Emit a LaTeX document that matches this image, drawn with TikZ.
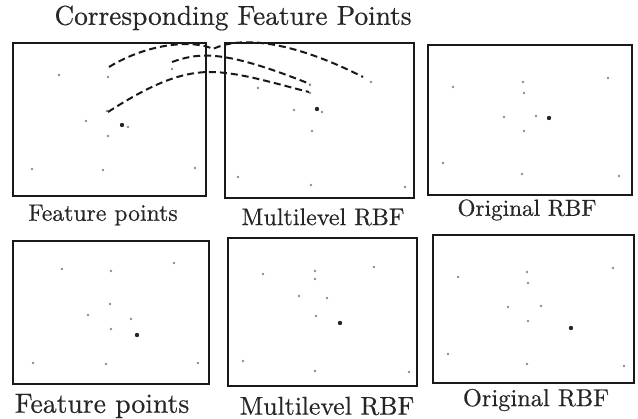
\documentclass[tikz,border=0pt]{standalone}
\usepackage{fontspec}
\setmainfont[FakeBold=0.5]{lmroman10-regular.otf}
\usetikzlibrary{calc}
\begin{document}
\begin{tikzpicture}[x=1pt,y=-1pt,
  frame/.style={draw=black!90,line width=2.6pt},
  fp/.style={circle,fill=black!45,inner sep=0pt,minimum size=2.6pt},
  fpd/.style={circle,fill=black!85,inner sep=0pt,minimum size=4.4pt},
  corr/.style={draw=black!90,line width=2pt,dash pattern=on 7pt off 4pt},
  lab/.style={inner sep=0pt,text=black!85}]
\useasboundingbox (0,0) rectangle (638,419);
% title
\node[lab,font=\fontsize{27.3}{31}\selectfont] (title) at (233,18) {Corresponding Feature Points};
% frames row 1
\draw[frame] (13,43) rectangle (206,196);
\draw[frame] (225,43) rectangle (414,198);
\draw[frame] (428,45) rectangle (632,195);
% frames row 2
\draw[frame] (13,241) rectangle (209,384);
\draw[frame] (228,238) rectangle (417,386);
\draw[frame] (433,235) rectangle (634,383);
% labels
\node[lab,font=\fontsize{23.7}{28}\selectfont] (l1) at (103,215) {Feature points};
\node[lab,font=\fontsize{24}{28}\selectfont] (l2) at (323,217) {Multilevel RBF};
\node[lab,font=\fontsize{23.2}{28}\selectfont] (l3) at (527,210) {Original RBF};
\node[lab,font=\fontsize{27.7}{31}\selectfont] (l4) at (102,406) {Feature points};
\node[lab,font=\fontsize{25.7}{29}\selectfont] (l5) at (327,406) {Multilevel RBF};
\node[lab,font=\fontsize{24.4}{28}\selectfont] (l6) at (536,400) {Original RBF};
% box 1 points
\node[fp] (a1) at (59,75) {};
\node[fp] (a2) at (108,77) {};
\node[fp] (a3) at (172,69) {};
\node[fp] (a4) at (107,111) {};
\node[fp] (a5) at (86,121) {};
\node[fpd] (a6) at (122,125) {};
\node[fp] (a7) at (128,127) {};
\node[fp] (a8) at (108,136) {};
\node[fp] (a9) at (32,169) {};
\node[fp] (a10) at (103,170) {};
\node[fp] (a11) at (195,168) {};
% box 2 points
\node[fp] (b1) at (258,88) {};
\node[fp] (b2) at (310,85) {};
\node[fp] (b3) at (310,93) {};
\node[fp] (b4) at (371,82) {};
\node[fp] (b5) at (294,110) {};
\node[fpd] (b6) at (317,109) {};
\node[fp] (b7) at (322,112) {};
\node[fp] (b8) at (312,131) {};
\node[fp] (b9) at (238,177) {};
\node[fp] (b10) at (311,185) {};
\node[fp] (b11) at (405,187) {};
% box 3 points
\node[fp] (c1) at (453,87) {};
\node[fp] (c2) at (523,82) {};
\node[fp] (c3) at (524,93) {};
\node[fp] (c4) at (608,78) {};
\node[fp] (c5) at (504,117) {};
\node[fp] (c6) at (536,116) {};
\node[fpd] (c7) at (549,118) {};
\node[fp] (c8) at (524,131) {};
\node[fp] (c9) at (443,163) {};
\node[fp] (c10) at (522,174) {};
\node[fp] (c11) at (619,176) {};
% box 4 points
\node[fp] (d1) at (62,269) {};
\node[fp] (d2) at (111,271) {};
\node[fp] (d3) at (174,263) {};
\node[fp] (d4) at (110,304) {};
\node[fp] (d5) at (88,315) {};
\node[fp] (d6) at (131,319) {};
\node[fp] (d7) at (111,329) {};
\node[fpd] (d8) at (137,335) {};
\node[fp] (d9) at (33,363) {};
\node[fp] (d10) at (106,364) {};
\node[fp] (d11) at (198,363) {};
% box 5 points
\node[fp] (e1) at (263,274) {};
\node[fp] (e2) at (315,271) {};
\node[fp] (e3) at (315,279) {};
\node[fp] (e4) at (374,267) {};
\node[fp] (e5) at (299,296) {};
\node[fp] (e6) at (327,298) {};
\node[fp] (e7) at (316,316) {};
\node[fpd] (e8) at (340,323) {};
\node[fp] (e9) at (243,361) {};
\node[fp] (e10) at (315,371) {};
\node[fp] (e11) at (409,372) {};
% box 6 points
\node[fp] (f1) at (458,277) {};
\node[fp] (f2) at (527,272) {};
\node[fp] (f3) at (528,283) {};
\node[fp] (f4) at (613,268) {};
\node[fp] (f5) at (508,307) {};
\node[fp] (f6) at (541,306) {};
\node[fp] (f7) at (528,321) {};
\node[fpd] (f8) at (571,328) {};
\node[fp] (f9) at (448,354) {};
\node[fp] (f10) at (527,364) {};
\node[fp] (f11) at (624,366) {};
% correspondence curves
\draw[corr] ($(a2)+(1,-10)$) .. controls (150,42) and (195,40) .. (213,49)
  .. controls (240,36) and (290,40) .. ($(b4)+(-8,-5)$);
\draw[corr] ($(a3)+(0,-7)$) .. controls (200,52) and (225,50) .. ($(b2)+(0,-1)$);
\draw[corr] ($(a4)+(1,1)$) .. controls (150,85) and (180,72) .. (210,72)
  .. controls (240,72) and (280,85) .. ($(b3)+(-1,-1)$);
\end{tikzpicture}
\end{document}
